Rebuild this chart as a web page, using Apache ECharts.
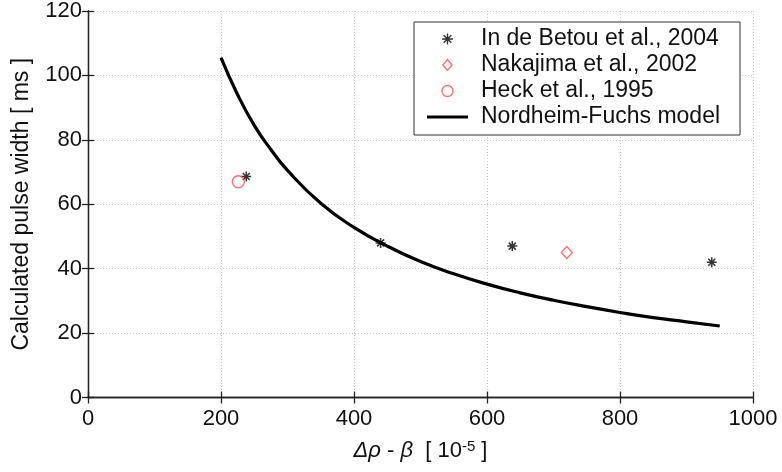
<!DOCTYPE html>
<html>
<head>
<meta charset="utf-8">
<script src="https://cdn.jsdelivr.net/npm/echarts@6/dist/echarts.min.js"></script>
<style>
html,body{margin:0;padding:0;background:#fff;}
#chart{width:782px;height:472px;}
</style>
</head>
<body>
<div id="chart"></div>
<script>
// Data
var xTicks = [0, 200, 400, 600, 800, 1000];
var yTicks = [0, 20, 40, 60, 80, 100, 120];
var betou = [[238, 68.6], [440, 48], [638, 47], [938, 42]];
var nakajima = [[720, 45]];
var heck = [[226, 67]];
var nordheimFuchs = [
  [200, 105.5], [225, 94], [250, 84.5], [275, 77], [300, 70.5], [350, 60.3],
  [400, 52.8], [450, 47], [500, 42.2], [550, 38.4], [600, 35.2], [650, 32.5],
  [700, 30.2], [750, 28.2], [800, 26.4], [850, 24.8], [900, 23.5], [950, 22.2]
];
var legendNames = ['In de Betou et al., 2004', 'Nakajima et al., 2002', 'Heck et al., 1995', 'Nordheim-Fuchs model'];

var FONT = 'Liberation Sans, Arial, sans-serif';
var asteriskPath = 'path://M5,0L5,10M0,5L10,5M1.5,1.5L8.5,8.5M1.5,8.5L8.5,1.5';
var diamondPath = 'path://M5,0L10,6L5,12L0,6Z';
var circlePath = 'path://M10,5A5,5,0,1,1,0,5A5,5,0,1,1,10,5Z';
var red = '#ff4a4a';

var chart = echarts.init(document.getElementById('chart'));
var gridLine = {show: true, lineStyle: {color: '#c8c8c8', width: 1, type: [1, 2]}};
var frame = {show: true, lineStyle: {color: '#222', width: 1.3}};
var tick = {show: true, inside: true, length: 6, lineStyle: {color: '#222', width: 1.3}};
function plain(v) { return String(v); }
chart.setOption({
  animation: false,
  backgroundColor: '#fff',
  grid: {left: 88, right: 29, top: 11, bottom: 74.5, containLabel: false},
  xAxis: [{
    type: 'value', min: xTicks[0], max: xTicks[xTicks.length - 1], interval: 200,
    position: 'bottom',
    axisLine: frame, axisTick: tick,
    axisLabel: {color: '#111', fontFamily: FONT, fontSize: 22, margin: 10, formatter: plain},
    splitLine: gridLine,
    name: '{i|Δρ} - {i|β}  [ 10{s|-5} ]',
    nameLocation: 'middle', nameGap: 42,
    nameTextStyle: {
      color: '#111', fontFamily: FONT, fontSize: 22,
      rich: {
        i: {fontStyle: 'italic', fontFamily: FONT, fontSize: 22, color: '#111'},
        s: {fontSize: 15, fontFamily: FONT, verticalAlign: 'top', color: '#111', padding: [0, 0, 8, 0]}
      }
    }
  }, {
    type: 'value', min: 0, max: 1000, interval: 200, position: 'top',
    axisLine: frame, axisTick: tick,
    axisLabel: {show: false}, splitLine: {show: false}
  }],
  yAxis: [{
    type: 'value', min: yTicks[0], max: yTicks[yTicks.length - 1], interval: 20,
    position: 'left',
    axisLine: frame, axisTick: tick,
    axisLabel: {color: '#111', fontFamily: FONT, fontSize: 22, margin: 6, formatter: plain},
    splitLine: gridLine,
    name: 'Calculated pulse width [ ms ]',
    nameLocation: 'middle', nameGap: 55,
    nameTextStyle: {color: '#111', fontFamily: FONT, fontSize: 23}
  }, {
    type: 'value', min: 0, max: 120, interval: 20, position: 'right',
    axisLine: frame, axisTick: tick,
    axisLabel: {show: false}, splitLine: {show: false}
  }],
  legend: {
    orient: 'vertical', left: 414, top: 22,
    backgroundColor: '#fff',
    borderColor: '#333', borderWidth: 1,
    padding: [4, 20, 5, 13],
    itemWidth: 41, itemHeight: 11, itemGap: 0,
    symbolKeepAspect: true,
    textStyle: {color: '#111', fontFamily: FONT, fontSize: 23, lineHeight: 26, padding: [0, 0, 0, 8]},
    data: [
      {name: legendNames[0], icon: asteriskPath,
       itemStyle: {color: 'rgba(0,0,0,0)', borderColor: '#000', borderWidth: 1.4}},
      {name: legendNames[1], icon: diamondPath,
       itemStyle: {color: 'rgba(0,0,0,0)', borderColor: red, borderWidth: 1.4}},
      {name: legendNames[2], icon: circlePath,
       itemStyle: {color: 'rgba(0,0,0,0)', borderColor: red, borderWidth: 1.4}},
      {name: legendNames[3], icon: 'path://M0,0L41,0L41,3L0,3Z',
       itemStyle: {color: '#000', borderWidth: 0}}
    ]
  },
  series: [{
    name: legendNames[3], type: 'line', data: nordheimFuchs, smooth: true,
    showSymbol: false, symbol: 'none',
    lineStyle: {color: '#000', width: 3.2}, itemStyle: {color: '#000'}, z: 3
  }, {
    name: legendNames[0], type: 'scatter', data: betou,
    symbol: asteriskPath, symbolSize: 10,
    itemStyle: {color: 'rgba(0,0,0,0)', borderColor: '#000', borderWidth: 1.5}, z: 4
  }, {
    name: legendNames[1], type: 'scatter', data: nakajima,
    symbol: 'diamond', symbolSize: [11, 12],
    itemStyle: {color: 'rgba(0,0,0,0)', borderColor: red, borderWidth: 1.4}, z: 4
  }, {
    name: legendNames[2], type: 'scatter', data: heck,
    symbol: 'circle', symbolSize: 12,
    itemStyle: {color: 'rgba(0,0,0,0)', borderColor: red, borderWidth: 1.4}, z: 4
  }]
});
</script>
</body>
</html>
